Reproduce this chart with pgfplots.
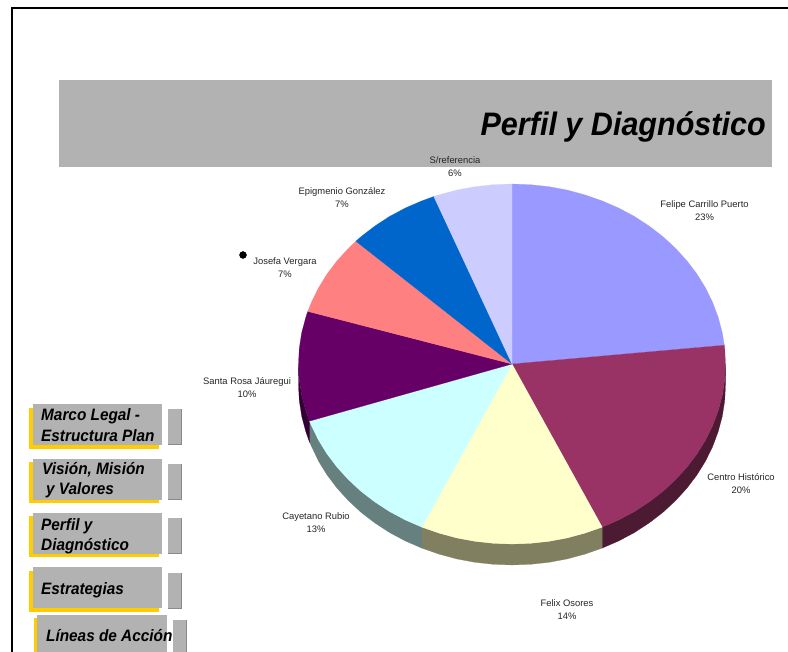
\documentclass[border=0pt]{standalone}
\usepackage{graphicx}
\usepackage{pgfplots}
\pgfplotsset{compat=1.18}
\usepackage{fontspec}
\setmainfont{Liberation Sans}
\definecolor{band}{HTML}{B2B2B2}
\definecolor{gold}{HTML}{FFCC00}
\definecolor{edge}{HTML}{8A8A8A}
\definecolor{sA}{HTML}{9999FF}
\definecolor{sB}{HTML}{993366}
\definecolor{sC}{HTML}{FFFFCC}
\definecolor{sD}{HTML}{CCFFFF}
\definecolor{sE}{HTML}{660066}
\definecolor{sF}{HTML}{FF8080}
\definecolor{sG}{HTML}{0066CC}
\definecolor{sH}{HTML}{CCCCFF}
\definecolor{wB}{HTML}{4D1A33}
\definecolor{wC}{HTML}{808060}
\definecolor{wD}{HTML}{668080}
\definecolor{wE}{HTML}{330033}
\newcommand{\rectbox}[5]{\addplot[fill=#5,draw=none] coordinates {(#1,#3) (#2,#3) (#2,#4) (#1,#4)} --cycle;}
\newcommand{\slice}[2]{\addplot[fill=#1,draw=#1,line width=0.2pt] coordinates {#2} --cycle;}
\newcommand{\lab}[4]{\node[align=center,font=\fontsize{9.4}{13}\selectfont,text=black!85,inner sep=0pt] at (axis cs:#1,#2) {#3\\#4};}
\newcommand{\btn}[3]{\node[anchor=base west,inner sep=0pt,font=\fontsize{16.5}{17}\selectfont\bfseries\itshape] at (axis cs:#1,#2) {\scalebox{0.93}[1]{#3}};}
\begin{document}
\begin{tikzpicture}
\begin{axis}[scale only axis,width=788pt,height=652pt,xmin=0,xmax=788,ymin=0,ymax=652,y dir=reverse,hide axis,clip=true]
% page
\rectbox{0}{788}{0}{652}{white}
% frame
\rectbox{11}{13}{7}{652}{black}
\rectbox{11}{788}{7}{9}{black}
% title band
\rectbox{59}{772}{80}{167}{band}
% buttons
\rectbox{29}{159}{408}{449}{gold}
\rectbox{33}{162}{404}{445}{band}
\rectbox{168}{182}{409}{445}{edge}
\rectbox{168}{181}{409.4}{444}{band}
\rectbox{29}{159}{462}{503}{gold}
\rectbox{33}{162}{459}{500}{band}
\rectbox{168}{182}{464}{500}{edge}
\rectbox{168}{181}{464.4}{499}{band}
\rectbox{29}{159}{516}{557}{gold}
\rectbox{33}{162}{513}{554}{band}
\rectbox{168}{182}{518}{554}{edge}
\rectbox{168}{181}{518.4}{553}{band}
\rectbox{29}{159}{571}{612}{gold}
\rectbox{33}{162}{567}{608}{band}
\rectbox{168}{182}{573}{609}{edge}
\rectbox{168}{181}{573.4}{608}{band}
\rectbox{34}{164}{618}{652}{gold}
\rectbox{37}{167}{615}{652}{band}
\rectbox{173}{187}{620}{652}{edge}
\rectbox{173}{186}{620.4}{652}{band}
% pie walls
\slice{wB}{(725.5,364) (724.7,379.7) (722.3,395.2) (718.2,410.6) (712.6,425.6) (705.5,440.1) (696.9,454) (686.9,467.2) (675.5,479.7) (663,491.3) (649.2,501.9) (634.5,511.5) (618.8,519.9) (602.2,527.1) (602.2,548.1) (618.8,540.9) (634.5,532.5) (649.2,522.9) (663,512.3) (675.5,500.7) (686.9,488.2) (696.9,475) (705.5,461.1) (712.6,446.6) (718.2,431.6) (722.3,416.2) (724.7,400.7) (725.5,385)}
\slice{wC}{(602.2,527.1) (585,533.1) (567.3,537.9) (549.1,541.3) (530.6,543.3) (512,544) (493.4,543.3) (474.9,541.3) (456.7,537.9) (439,533.1) (421.8,527.1) (421.8,548.1) (439,554.1) (456.7,558.9) (474.9,562.3) (493.4,564.3) (512,565) (530.6,564.3) (549.1,562.3) (567.3,558.9) (585,554.1) (602.2,548.1)}
\slice{wD}{(421.8,527.1) (405.2,519.9) (389.5,511.5) (374.8,501.9) (361,491.3) (348.5,479.7) (337.1,467.2) (327.1,454) (318.5,440.1) (309.5,421.1) (309.5,442.1) (318.5,461.1) (327.1,475) (337.1,488.2) (348.5,500.7) (361,512.3) (374.8,522.9) (389.5,532.5) (405.2,540.9) (421.8,548.1)}
\slice{wE}{(309.5,421.1) (305.8,410.6) (301.7,395.2) (299.3,379.7) (298.5,364) (298.5,385) (299.3,400.7) (301.7,416.2) (305.8,431.6) (309.5,442.1)}
% pie top
\slice{sA}{(512,364) (512,184) (530.6,184.7) (549.1,186.7) (567.3,190.1) (585,194.9) (602.2,200.9) (618.8,208.1) (634.5,216.5) (649.2,226.1) (663,236.7) (675.5,248.3) (686.9,260.8) (696.9,274) (705.5,287.9) (712.6,302.4) (718.2,317.4) (722.3,332.8) (724.3,345.2)}
\slice{sB}{(512,364) (724.3,345.2) (724.7,348.3) (725.5,364) (724.7,379.7) (722.3,395.2) (718.2,410.6) (712.6,425.6) (705.5,440.1) (696.9,454) (686.9,467.2) (675.5,479.7) (663,491.3) (649.2,501.9) (634.5,511.5) (618.8,519.9) (602.2,527.1)}
\slice{sC}{(512,364) (602.2,527.1) (585,533.1) (567.3,537.9) (549.1,541.3) (530.6,543.3) (512,544) (493.4,543.3) (474.9,541.3) (456.7,537.9) (439,533.1) (421.8,527.1)}
\slice{sD}{(512,364) (421.8,527.1) (405.2,519.9) (389.5,511.5) (374.8,501.9) (361,491.3) (348.5,479.7) (337.1,467.2) (327.1,454) (318.5,440.1) (311.4,425.6) (309.5,421.1)}
\slice{sE}{(512,364) (309.5,421.1) (305.8,410.6) (301.7,395.2) (299.3,379.7) (298.5,364) (299.3,348.3) (301.7,332.8) (305.8,317.4) (307.8,311.4)}
\slice{sF}{(512,364) (307.8,311.4) (311.4,302.4) (318.5,287.9) (327.1,274) (337.1,260.8) (348.5,248.3) (355.9,241.2)}
\slice{sG}{(512,364) (355.9,241.2) (361,236.7) (374.8,226.1) (389.5,216.5) (405.2,208.1) (421.8,200.9) (433.8,196.5)}
\slice{sH}{(512,364) (433.8,196.5) (439,194.9) (456.7,190.1) (474.9,186.7) (493.4,184.7) (512,184)}
% dot
\addplot[only marks,mark=*,mark size=3.5pt,black] coordinates {(243,255)};
% labels
\lab{455}{166.5}{S/referencia}{6\%}
\lab{704.5}{210.5}{Felipe Carrillo Puerto}{23\%}
\lab{342}{197.5}{Epigmenio González}{7\%}
\lab{285}{267.5}{Josefa Vergara}{7\%}
\lab{247}{388}{Santa Rosa Jáuregui}{10\%}
\lab{316}{522.5}{Cayetano Rubio}{13\%}
\lab{567}{610}{Felix Osores}{14\%}
\lab{741}{483.5}{Centro Histórico}{20\%}
% title
\node[anchor=base east,inner sep=0pt,font=\fontsize{32.5}{34}\selectfont\bfseries\itshape] at (axis cs:766,135.5) {\scalebox{0.94}[1]{Perfil y Diagnóstico}};
% button texts
\btn{41}{421}{Marco Legal -}
\btn{41}{441.7}{Estructura Plan}
\btn{42}{475}{Visión, Misión}
\btn{46}{495}{y Valores}
\btn{41}{530}{Perfil y}
\btn{41}{550}{Diagnóstico}
\btn{41}{594}{Estrategias}
\btn{46}{641.7}{Líneas de Acción}
\end{axis}
\end{tikzpicture}
\end{document}
